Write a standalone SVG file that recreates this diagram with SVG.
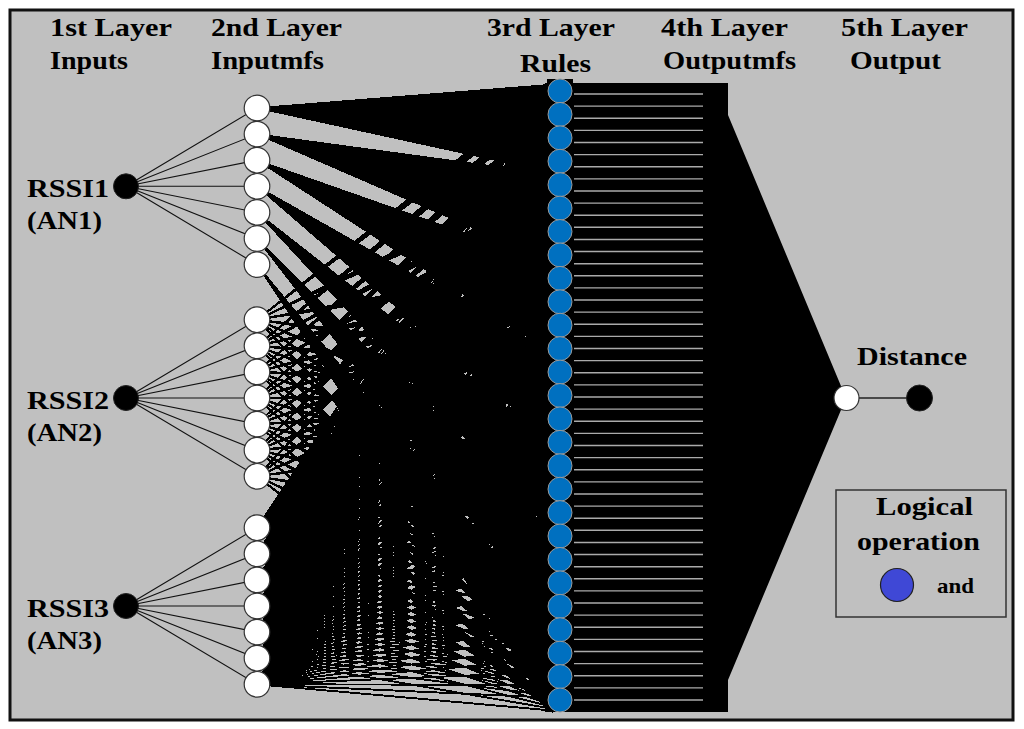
<svg xmlns="http://www.w3.org/2000/svg" width="1024" height="729" viewBox="0 0 1024 729">
<style>
.t{font-family:"Liberation Serif","Times New Roman",serif;font-weight:bold;font-size:26px;fill:#000}
.in{fill:#000;stroke:#222;stroke-width:1}
.mf{fill:#fff;stroke:#333;stroke-width:1.2}
.rule{fill:#0070c0;stroke:#9a9a9a;stroke-width:1}
.w{fill:#000;stroke:#000;stroke-width:1.4}
</style>
<defs>
<path id="f2" fill="#000" stroke="#000" stroke-width="1.8" vector-effect="non-scaling-stroke" d="M0 0L295 0L295 10.98Z M0 0L295 89.69L295 100.67Z M0 0L295 179.38L295 190.36Z M0 0L295 269.07L295 280.05Z M0 0L295 358.76L295 369.74Z M0 0L295 448.45L295 459.43Z M0 0L295 538.14L295 549.12Z"/>
<path id="f3" fill="none" stroke="#000" stroke-width="1.9" vector-effect="non-scaling-stroke" d="M0 0L295 0M0 0L295 12.8M0 0L295 25.6M0 0L295 38.4M0 0L295 51.3M0 0L295 64.1M0 0L295 76.9M0 0L295 89.7M0 0L295 102.5M0 0L295 115.3M0 0L295 128.1M0 0L295 140.9M0 0L295 153.8M0 0L295 166.6M0 0L295 179.4M0 0L295 192.2M0 0L295 205M0 0L295 217.8M0 0L295 230.6M0 0L295 243.4M0 0L295 256.3M0 0L295 269.1M0 0L295 281.9M0 0L295 294.7M0 0L295 307.5M0 0L295 320.3M0 0L295 333.1M0 0L295 346M0 0L295 358.8M0 0L295 371.6M0 0L295 384.4M0 0L295 397.2M0 0L295 410M0 0L295 422.8M0 0L295 435.6M0 0L295 448.5M0 0L295 461.3M0 0L295 474.1M0 0L295 486.9M0 0L295 499.7M0 0L295 512.5M0 0L295 525.3M0 0L295 538.1M0 0L295 551M0 0L295 563.8M0 0L295 576.6M0 0L295 589.4M0 0L295 602.2M0 0L295 615"/>
</defs>
<rect x="0" y="0" width="1024" height="729" fill="#fff"/>
<rect x="10" y="10" width="1003" height="710" fill="#c0c0c0" stroke="#111" stroke-width="3"/>

<g id="connectors">
  <path fill="none" stroke="#111" stroke-width="1.1" d="M126 186.3L257 108M126 186.3L257 134.1M126 186.3L257 160.2M126 186.3L257 186.3M126 186.3L257 212.4M126 186.3L257 238.5M126 186.3L257 264.6M126 398L257 319.7M126 398L257 345.8M126 398L257 371.9M126 398L257 398M126 398L257 424.1M126 398L257 450.2M126 398L257 476.3M126 606L257 527.7M126 606L257 553.8M126 606L257 579.9M126 606L257 606M126 606L257 632.1M126 606L257 658.2M126 606L257 684.3"/>
  <g id="mf-to-rule" shape-rendering="crispEdges">
    <use href="#f3" transform="matrix(1 -1.50237 0 1 257 527.7)"/>
    <use href="#f3" transform="matrix(1 -1.58464 0 1 257 553.8)"/>
    <use href="#f3" transform="matrix(1 -1.66691 0 1 257 579.9)"/>
    <use href="#f3" transform="matrix(1 -1.74918 0 1 257 606)"/>
    <use href="#f3" transform="matrix(1 -1.83145 0 1 257 632.1)"/>
    <use href="#f3" transform="matrix(1 -1.91372 0 1 257 658.2)"/>
    <use href="#f3" transform="matrix(1 -1.99599 0 1 257 684.3)"/>
    <use href="#f2" transform="matrix(1 -0.79729 0 1 257 319.7)"/>
    <use href="#f2" transform="matrix(1 -0.84233 0 1 257 345.8)"/>
    <use href="#f2" transform="matrix(1 -0.88737 0 1 257 371.9)"/>
    <use href="#f2" transform="matrix(1 -0.93241 0 1 257 398)"/>
    <use href="#f2" transform="matrix(1 -0.97745 0 1 257 424.1)"/>
    <use href="#f2" transform="matrix(1 -1.02249 0 1 257 450.2)"/>
    <use href="#f2" transform="matrix(1 -1.06753 0 1 257 476.3)"/>
    <polygon class="w" points="257,108 552,84.5 552,172.36"/>
    <polygon class="w" points="257,134.1 552,174.19 552,262.05"/>
    <polygon class="w" points="257,160.2 552,263.88 552,351.74"/>
    <polygon class="w" points="257,186.3 552,353.57 552,441.43"/>
    <polygon class="w" points="257,212.4 552,443.26 552,531.12"/>
    <polygon class="w" points="257,238.5 552,532.95 552,620.81"/>
    <polygon class="w" points="257,264.6 552,622.64 552,710.5"/>
  </g>
  <polygon fill="#000" points="545,83 728,83 728,115 846,398 728,680 728,712 545,712"/>
  <rect x="547" y="79" width="26" height="5" fill="#000"/>
  <path fill="none" stroke="#aaa" stroke-width="1.4" d="M574 94H703M574 106.12H703M574 118.24H703M574 130.36H703M574 142.48H703M574 154.6H703M574 166.72H703M574 178.84H703M574 190.96H703M574 203.08H703M574 215.2H703M574 227.32H703M574 239.44H703M574 251.56H703M574 263.68H703M574 275.8H703M574 287.92H703M574 300.04H703M574 312.16H703M574 324.28H703M574 336.4H703M574 348.52H703M574 360.64H703M574 372.76H703M574 384.88H703M574 397H703M574 409.12H703M574 421.24H703M574 433.36H703M574 445.48H703M574 457.6H703M574 469.72H703M574 481.84H703M574 493.96H703M574 506.08H703M574 518.2H703M574 530.32H703M574 542.44H703M574 554.56H703M574 566.68H703M574 578.8H703M574 590.92H703M574 603.04H703M574 615.16H703M574 627.28H703M574 639.4H703M574 651.52H703M574 663.64H703M574 675.76H703M574 687.88H703M574 700H703"/>
  <line x1="858" y1="398" x2="907" y2="398" stroke="#222" stroke-width="1.5"/>
</g>

<g id="headers">
  <text class="t" x="50" y="36" textLength="122" lengthAdjust="spacingAndGlyphs">1st Layer</text>
  <text class="t" x="50" y="69" textLength="78" lengthAdjust="spacingAndGlyphs">Inputs</text>
  <text class="t" x="211" y="36" textLength="131" lengthAdjust="spacingAndGlyphs">2nd Layer</text>
  <text class="t" x="211" y="69" textLength="113" lengthAdjust="spacingAndGlyphs">Inputmfs</text>
  <text class="t" x="487" y="36" textLength="128" lengthAdjust="spacingAndGlyphs">3rd Layer</text>
  <text class="t" x="520" y="72" textLength="71" lengthAdjust="spacingAndGlyphs">Rules</text>
  <text class="t" x="661" y="36" textLength="127" lengthAdjust="spacingAndGlyphs">4th Layer</text>
  <text class="t" x="663" y="69" textLength="133" lengthAdjust="spacingAndGlyphs">Outputmfs</text>
  <text class="t" x="841" y="36" textLength="127" lengthAdjust="spacingAndGlyphs">5th Layer</text>
  <text class="t" x="850" y="69" textLength="91" lengthAdjust="spacingAndGlyphs">Output</text>
</g>

<g id="input-RSSI1">
  <circle class="in" cx="126" cy="186.3" r="12.5"/>
  <text class="t" x="27" y="197" textLength="82" lengthAdjust="spacingAndGlyphs">RSSI1</text>
  <text class="t" x="27" y="229" textLength="75" lengthAdjust="spacingAndGlyphs">(AN1)</text>
</g>
<g id="input-RSSI2">
  <circle class="in" cx="126" cy="398" r="12.5"/>
  <text class="t" x="27" y="408.5" textLength="82" lengthAdjust="spacingAndGlyphs">RSSI2</text>
  <text class="t" x="27" y="440.5" textLength="75" lengthAdjust="spacingAndGlyphs">(AN2)</text>
</g>
<g id="input-RSSI3">
  <circle class="in" cx="126" cy="606" r="12.5"/>
  <text class="t" x="27" y="616.5" textLength="82" lengthAdjust="spacingAndGlyphs">RSSI3</text>
  <text class="t" x="27" y="648.5" textLength="75" lengthAdjust="spacingAndGlyphs">(AN3)</text>
</g>

<g id="inputmfs">
  <circle class="mf" cx="257" cy="108" r="12.8"/>
  <circle class="mf" cx="257" cy="134.1" r="12.8"/>
  <circle class="mf" cx="257" cy="160.2" r="12.8"/>
  <circle class="mf" cx="257" cy="186.3" r="12.8"/>
  <circle class="mf" cx="257" cy="212.4" r="12.8"/>
  <circle class="mf" cx="257" cy="238.5" r="12.8"/>
  <circle class="mf" cx="257" cy="264.6" r="12.8"/>
  <circle class="mf" cx="257" cy="319.7" r="12.8"/>
  <circle class="mf" cx="257" cy="345.8" r="12.8"/>
  <circle class="mf" cx="257" cy="371.9" r="12.8"/>
  <circle class="mf" cx="257" cy="398" r="12.8"/>
  <circle class="mf" cx="257" cy="424.1" r="12.8"/>
  <circle class="mf" cx="257" cy="450.2" r="12.8"/>
  <circle class="mf" cx="257" cy="476.3" r="12.8"/>
  <circle class="mf" cx="257" cy="527.7" r="12.8"/>
  <circle class="mf" cx="257" cy="553.8" r="12.8"/>
  <circle class="mf" cx="257" cy="579.9" r="12.8"/>
  <circle class="mf" cx="257" cy="606" r="12.8"/>
  <circle class="mf" cx="257" cy="632.1" r="12.8"/>
  <circle class="mf" cx="257" cy="658.2" r="12.8"/>
  <circle class="mf" cx="257" cy="684.3" r="12.8"/>
</g>

<g id="rules">
  <circle class="rule" cx="560" cy="91" r="12"/>
  <circle class="rule" cx="560" cy="114.42" r="12"/>
  <circle class="rule" cx="560" cy="137.85" r="12"/>
  <circle class="rule" cx="560" cy="161.27" r="12"/>
  <circle class="rule" cx="560" cy="184.69" r="12"/>
  <circle class="rule" cx="560" cy="208.12" r="12"/>
  <circle class="rule" cx="560" cy="231.54" r="12"/>
  <circle class="rule" cx="560" cy="254.96" r="12"/>
  <circle class="rule" cx="560" cy="278.38" r="12"/>
  <circle class="rule" cx="560" cy="301.81" r="12"/>
  <circle class="rule" cx="560" cy="325.23" r="12"/>
  <circle class="rule" cx="560" cy="348.65" r="12"/>
  <circle class="rule" cx="560" cy="372.08" r="12"/>
  <circle class="rule" cx="560" cy="395.5" r="12"/>
  <circle class="rule" cx="560" cy="418.92" r="12"/>
  <circle class="rule" cx="560" cy="442.35" r="12"/>
  <circle class="rule" cx="560" cy="465.77" r="12"/>
  <circle class="rule" cx="560" cy="489.19" r="12"/>
  <circle class="rule" cx="560" cy="512.62" r="12"/>
  <circle class="rule" cx="560" cy="536.04" r="12"/>
  <circle class="rule" cx="560" cy="559.46" r="12"/>
  <circle class="rule" cx="560" cy="582.88" r="12"/>
  <circle class="rule" cx="560" cy="606.31" r="12"/>
  <circle class="rule" cx="560" cy="629.73" r="12"/>
  <circle class="rule" cx="560" cy="653.15" r="12"/>
  <circle class="rule" cx="560" cy="676.58" r="12"/>
  <circle class="rule" cx="560" cy="700" r="12"/>
</g>

<g id="output">
  <circle class="mf" cx="846.5" cy="398" r="12.5"/>
  <circle class="in" cx="919.5" cy="398" r="13"/>
  <text class="t" x="857" y="365" textLength="110" lengthAdjust="spacingAndGlyphs">Distance</text>
</g>

<g id="legend">
  <rect x="836" y="490" width="170" height="127" fill="none" stroke="#333" stroke-width="1.5"/>
  <text class="t" x="876" y="515" textLength="97" lengthAdjust="spacingAndGlyphs">Logical</text>
  <text class="t" x="857" y="550" textLength="123" lengthAdjust="spacingAndGlyphs">operation</text>
  <circle cx="897" cy="585" r="16.5" fill="#3f48d6" stroke="#222" stroke-width="1.2"/>
  <text class="t" x="937" y="593" style="font-size:21px" textLength="37" lengthAdjust="spacingAndGlyphs">and</text>
</g>
</svg>
